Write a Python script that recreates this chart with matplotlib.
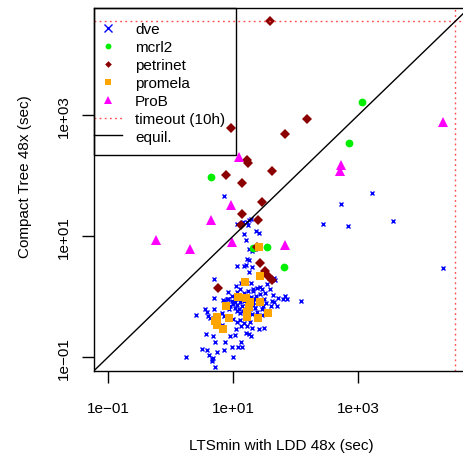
import numpy as np
import matplotlib
matplotlib.use("Agg")
import matplotlib.pyplot as plt
from matplotlib.lines import Line2D
from matplotlib.patches import Rectangle
from matplotlib.ticker import FixedLocator, FixedFormatter, NullLocator

plt.rcParams['font.family'] = ['Liberation Sans', 'DejaVu Sans']

# ---- data: log10(seconds), x = LTSmin with LDD 48x, y = Compact Tree 48x ----
dve_x_log10 = [0.856, 2.445, 1.064, 1.165, 1.219, 1.261, 1.283, 1.240, 1.181, 1.373,
               1.411, 1.203, 1.261, 1.299, 1.325, 1.219, 1.261, 1.069, 1.171, 1.208,
               1.299, 1.256, 0.691, 1.133, 1.288, 1.053, 1.384, 1.427, 1.315, 1.656,
               1.672, 0.915, 1.059, 1.512, 0.696, 0.915, 0.989, 1.293, 1.368, 1.432,
               1.501, 1.832, 1.859, 2.088, 1.619, 1.656, 1.699, 1.603, 0.856, 0.952,
               1.005, 1.032, 1.069, 1.101, 1.139, 1.059, 1.112, 1.165, 1.192, 1.315,
               1.352, 1.379, 1.485, 1.528, 0.552, 0.589, 0.403, 0.605, 0.632, 0.819,
               0.856, 0.899, 1.005, 1.069, 1.112, 1.176, 1.219, 1.272, 1.299, 1.411,
               1.496, 1.048, 1.123, 1.203, 1.251, 1.283, 0.568, 0.675, 0.957, 1.027,
               0.712, 0.867, 1.128, 0.979, 1.085, 1.139, 0.499, 0.589, 0.744, 0.856,
               0.621, 0.659, 0.685, 0.248, 1.005, 0.712, 0.664, 3.229, 2.723, 2.835,
               3.555, 4.360, 0.696, 0.819, 0.845, 0.899, 0.925, 1.144, 1.176, 1.208,
               1.240, 1.272, 1.320, 1.352, 1.400, 1.464, 1.192, 1.112, 1.080, 1.032,
               0.984, 0.936, 1.304, 1.384, 1.464, 1.560, 1.640, 1.720, 1.800, 1.320,
               1.240, 1.176, 1.112, 1.464, 1.544, 1.592]
dve_y_log10 = [1.663, 1.207, 1.212, 1.233, 1.245, 1.273, 1.289, 1.190, 1.035, 1.091,
               1.058, 0.948, 0.783, 0.750, 0.794, 0.622, 0.601, 0.507, 0.518, 0.530,
               0.490, 0.408, 0.292, 0.221, 0.221, 0.177, 0.150, 0.167, 0.122, 0.315,
               0.276, 0.084, 0.078, 0.068, -0.015, -0.031, 0.012, 0.002, 0.012, 0.040,
               -0.031, 0.012, -0.031, -0.071, -0.071, -0.088, -0.154, -0.154, -0.071, -0.154,
               -0.125, -0.180, -0.142, -0.196, -0.154, -0.236, -0.274, -0.236, -0.319, -0.142,
               -0.180, -0.253, -0.154, -0.109, -0.208, -0.253, -0.302, -0.319, -0.345, -0.263,
               -0.319, -0.345, -0.362, -0.418, -0.385, -0.439, -0.484, -0.418, -0.510, -0.527,
               -0.510, -0.538, -0.484, -0.593, -0.609, -0.654, -0.621, -0.654, -0.649, -0.637,
               -0.748, -0.748, -0.748, -0.824, -0.830, -0.830, -0.857, -0.885, -0.913, -0.880,
               -0.967, -1.022, -1.005, -1.000, -1.000, -1.154, -1.067, 1.719, 1.530, 1.167,
               1.250, 0.480, -0.208, -0.467, -0.054, -0.043, -0.043, -0.043, -0.076, -0.109,
               -0.043, -0.208, -0.092, -0.043, -0.125, -0.208, -0.241, -0.092, -0.043, -0.092,
               -0.076, -0.208, -0.291, -0.340, -0.307, -0.241, 0.023, -0.026, -0.043, 0.089,
               0.089, 0.056, 0.122, 0.122, 0.205, 0.122]

mcrl2_x_log10 = [0.648, 1.320, 1.544, 1.816, 3.064, 2.856]
mcrl2_y_log10 = [1.988, 0.816, 0.832, 0.486, 3.226, 2.549]

petrinet_x_log10 = [1.592, 0.968, 2.184, 1.832, 1.224, 1.240, 0.888, 1.624, 1.144, 1.464,
                    1.144, 1.400, 1.128, 1.384, 1.432, 1.512, 1.560, 1.624, 0.760]
petrinet_y_log10 = [4.556, 2.797, 2.946, 2.698, 2.269, 2.219, 2.021, 2.087, 1.889, 1.575,
                    1.377, 1.278, 1.196, 0.832, 0.552, 0.420, 0.337, 0.271, 0.139]

promela_x_log10 = [1.416, 1.432, 1.192, 1.080, 1.208, 1.272, 1.432, 0.888, 1.256, 1.224,
                   1.560, 0.744, 0.936, 1.224, 1.400, 0.712, 0.744, 0.840]
promela_y_log10 = [0.832, 0.337, 0.238, -0.009, -0.026, -0.092, -0.092, -0.158, -0.175, -0.257,
                   -0.274, -0.340, -0.356, -0.340, -0.356, -0.406, -0.472, -0.538]

prob_x_log10 = [1.096, 0.968, 0.648, -0.232, 0.312, 0.984, 1.832, 4.360, 2.728, 2.712]
prob_y_log10 = [2.318, 1.526, 1.278, 0.948, 0.799, 0.915, 0.865, 2.896, 2.186, 2.087]

timeout_sec = 36000            # 10 h
tick_values = [0.1, 10, 1000]
tick_labels = ["1e\u221201", "1e+01", "1e+03"]
legend_labels = ["dve", "mcrl2", "petrinet", "promela", "ProB", "timeout (10h)", "equil."]

x_label = "LTSmin with LDD 48x (sec)"
y_label = "Compact Tree 48x (sec)"

# ---- figure ----
W, H, DPI = 464, 456, 100
fig = plt.figure(figsize=(W / DPI, H / DPI), dpi=DPI)
ax = fig.add_axes([94 / W, 1 - 371.7 / H, 375 / W, 362.7 / H])
ax.set_xscale('log')
ax.set_yscale('log')
lo, hi = 10 ** -1.222, 10 ** 4.778
ax.set_xlim(lo, hi)
ax.set_ylim(lo, hi)

def p(v):
    return 10 ** np.asarray(v)

ax.plot(p(dve_x_log10), p(dve_y_log10), ls='none', marker='x', color='#0000ff',
        ms=3.0, mew=1.0)
ax.plot(p(mcrl2_x_log10), p(mcrl2_y_log10), ls='none', marker='o', color='#00ee00',
        ms=5.6, mew=0)
ax.plot(p(petrinet_x_log10), p(petrinet_y_log10), ls='none', marker='D', color='#8b0000',
        ms=4.6, mew=0)
ax.plot(p(promela_x_log10), p(promela_y_log10), ls='none', marker='s', color='#ffa500',
        ms=5.6, mew=0)
ax.plot(p(prob_x_log10), p(prob_y_log10), ls='none', marker='^', color='#ff00ff',
        ms=6.8, mew=0)

tcol = '#ff4d4d'
ax.axhline(timeout_sec, color=tcol, lw=1.0, ls=(0, (1.3, 2.4)))
ax.axvline(timeout_sec, color=tcol, lw=1.0, ls=(0, (1.3, 2.4)))
ax.axline((1, 1), (10, 10), color='black', lw=1.0)

for s in ax.spines.values():
    s.set_linewidth(1.0)
    s.set_color('black')

for axis in (ax.xaxis, ax.yaxis):
    axis.set_major_locator(FixedLocator(tick_values))
    axis.set_major_formatter(FixedFormatter(tick_labels))
    axis.set_minor_locator(NullLocator())
ax.tick_params(axis='both', which='major', length=8.6, width=1.0, direction='out',
               labelsize=11, color='black')
ax.tick_params(axis='x', pad=13)
ax.tick_params(axis='y', pad=8)
for lab in ax.get_yticklabels():
    lab.set_rotation(90)
    lab.set_va('center')

fig.text(281.5 / W, 1 - 446 / H, x_label, ha='center', va='center', fontsize=11)
fig.text(25 / W, 1 - 177 / H, y_label, ha='center', va='center', rotation=90, fontsize=11)

# ---- legend ----
handles = [
    Line2D([], [], ls='none', marker='x', color='#0000ff', ms=5.5, mew=1.0),
    Line2D([], [], ls='none', marker='o', color='#00ee00', ms=4.2, mew=0),
    Line2D([], [], ls='none', marker='D', color='#8b0000', ms=3.4, mew=0),
    Line2D([], [], ls='none', marker='s', color='#ffa500', ms=4.6, mew=0),
    Line2D([], [], ls='none', marker='^', color='#ff00ff', ms=6.2, mew=0),
    Line2D([], [], color=tcol, lw=1.0, ls=(0, (1.3, 2.4))),
    Line2D([], [], color='black', lw=1.0),
]
leg = ax.legend(handles, legend_labels, loc='upper left',
                bbox_to_anchor=(94 / W, 1 - 23 / H), bbox_transform=fig.transFigure,
                frameon=False, borderpad=0, borderaxespad=0, fontsize=11,
                handlelength=28 / 15.28, handletextpad=13 / 15.28, labelspacing=0.26)
fig.patches.append(Rectangle((94 / W, 1 - 156 / H), 142 / W, 147 / H,
                             transform=fig.transFigure, fill=False,
                             edgecolor='black', lw=1.0, zorder=5))

fig.savefig("out.png", dpi=DPI)
